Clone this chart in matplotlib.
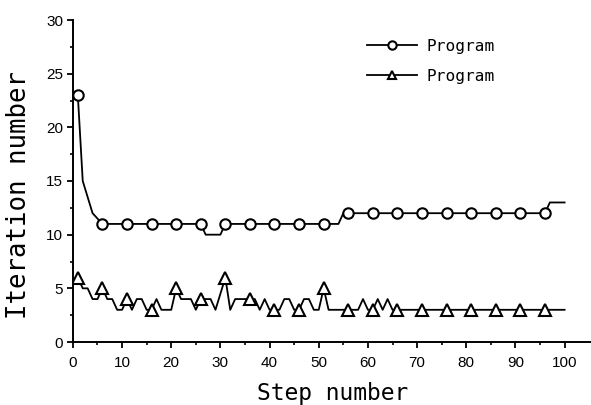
import matplotlib
matplotlib.use("Agg")
import matplotlib.pyplot as plt
import numpy as np

steps = list(range(1, 101))
circle_vals = ([23, 15, 13.5, 12, 11.5] + [11] * 21 + [10] * 4 + [11] * 24
               + [12] * 42 + [13] * 4)
triangle_vals = [6, 5, 5, 4, 4, 5, 4, 4, 3, 3,
                 4, 3, 4, 4, 3, 3, 4, 3, 3, 3,
                 5, 4, 4, 4, 3, 4, 4, 4, 3, 4.5,
                 6, 3, 4, 4, 4, 4, 4, 3, 4, 3,
                 3, 3, 4, 4, 3, 3, 4, 4, 3, 3,
                 5, 3, 3, 3, 3, 3, 3, 3, 4, 3,
                 3, 4, 3, 4, 3] + [3] * 35
legend_labels = ["Program", "Program"]
xticks = list(range(0, 101, 10))
yticks = list(range(0, 31, 5))

W, H = 591, 405
fig = plt.figure(figsize=(W / 100, H / 100), dpi=100)
x0, y0 = 72.9, 342.0
xr = 105.5 * 4.917
ax = fig.add_axes([x0 / W, (H - y0) / H, xr / W, 322 / H])

lw = 1.3
ms = 7.5
ax.plot(steps, circle_vals, color="black", lw=lw, marker="o", markevery=5,
        ms=ms, mfc="white", mec="black", mew=1.5, label=legend_labels[0])
ax.plot(steps, triangle_vals, color="black", lw=lw, marker="^", markevery=5,
        ms=ms + 0.8, mfc="white", mec="black", mew=1.5, label=legend_labels[1])

ax.set_xlim(0, 105.5)
ax.set_ylim(0, 30)
ax.set_xticks(xticks)
ax.set_yticks(yticks)
ax.set_xticks(np.arange(5, 101, 10), minor=True)
ax.set_yticks(np.arange(2.5, 30, 5), minor=True)
for s in ["top", "right"]:
    ax.spines[s].set_visible(False)
for s in ["left", "bottom"]:
    ax.spines[s].set_linewidth(1.4)
ax.tick_params(which="major", direction="out", length=4, width=1.3,
               labelsize=11)
ax.tick_params(axis="x", which="major", pad=6)
ax.tick_params(axis="y", which="major", pad=3)
ax.tick_params(which="minor", direction="out", length=2.5, width=1.2)
for lab in ax.get_xticklabels() + ax.get_yticklabels():
    lab.set_family("Liberation Sans")

ax.set_xlabel("Step number", family="DejaVu Sans Mono", fontsize=16.5)
ax.set_ylabel("Iteration number", family="DejaVu Sans Mono", fontsize=18.5)
ax.xaxis.set_label_coords(0.5, -0.125)
ax.yaxis.set_label_coords(-0.079, 0.456)

leg = ax.legend(loc="upper left", bbox_to_anchor=(367 / W, 1 - 39 / H),
                bbox_transform=fig.transFigure, frameon=False,
                prop={"family": "DejaVu Sans Mono", "size": 11.6},
                handlelength=3.1, handletextpad=0.6, labelspacing=0.9,
                borderpad=0, borderaxespad=0)
for h in leg.legend_handles:
    h.set_markersize(6)

fig.savefig("out.png", dpi=100)
